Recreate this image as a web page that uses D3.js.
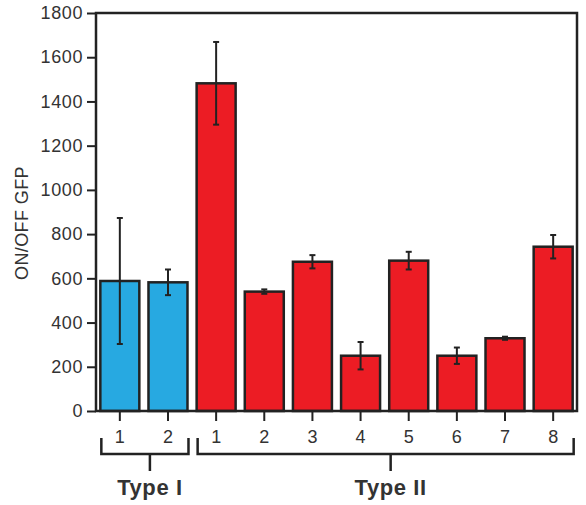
<!DOCTYPE html>
<html lang="en">
<head>
<meta charset="utf-8">
<title>ON/OFF GFP</title>
<script src="https://d3js.org/d3.v7.min.js"></script>
<style>
  body { margin: 0; background: #fff; }
  text { font-family: "Liberation Sans", Arial, sans-serif; fill: #333; }
</style>
</head>
<body>
<div id="chart"></div>
<script>
// data
var labels = ['1', '2', '1', '2', '3', '4', '5', '6', '7', '8'];
var values = [588, 582, 1482, 540, 675, 250, 680, 250, 329, 743];
var errors = [285, 58, 187, 10, 30, 62, 40, 37, 7, 53];
var types  = ['I', 'I', 'II', 'II', 'II', 'II', 'II', 'II', 'II', 'II'];
var groups = [{name: 'Type I', from: 0, to: 1}, {name: 'Type II', from: 2, to: 9}];
var yTicks = [0, 200, 400, 600, 800, 1000, 1200, 1400, 1600, 1800];

var w = 586, h = 505;
var margin = {top: 13, right: 9, bottom: 94, left: 96};
var colors = {I: '#27a9e1', II: '#ec1c24'};
var ink = '#222';

var svg = d3.select('#chart').append('svg').attr('width', w).attr('height', h);

var x = d3.scaleBand().domain(d3.range(values.length))
  .range([margin.left, w - margin.right])
  .paddingInner(0.19).paddingOuter(0.09);
var y = d3.scaleLinear().domain([0, 1800]).range([h - margin.bottom, margin.top]);

// y axis
var yAxis = svg.append('g').attr('transform', 'translate(' + margin.left + ',0)')
  .call(d3.axisLeft(y).tickValues(yTicks).tickFormat(d3.format('d')).tickSize(9).tickPadding(4));
yAxis.select('.domain').remove();
yAxis.selectAll('line').attr('stroke', ink).attr('stroke-width', 2);
yAxis.selectAll('text').attr('font-size', 18).attr('letter-spacing', 0.6).attr('fill', '#333');

// x axis
var xAxis = svg.append('g').attr('transform', 'translate(0,' + y(0) + ')')
  .call(d3.axisBottom(x).tickFormat(function (i) { return labels[i]; }).tickSize(10).tickPadding(9));
xAxis.select('.domain').remove();
xAxis.selectAll('line').attr('stroke', ink).attr('stroke-width', 2);
xAxis.selectAll('text').attr('font-size', 18).attr('fill', '#333');

// bars
svg.selectAll('.bar').data(values).enter().append('rect').attr('class', 'bar')
  .attr('x', function (d, i) { return x(i); })
  .attr('y', function (d) { return y(d); })
  .attr('width', x.bandwidth())
  .attr('height', function (d) { return y(0) - y(d); })
  .attr('fill', function (d, i) { return colors[types[i]]; })
  .attr('stroke', ink).attr('stroke-width', 2.5);

// error bars
var eb = svg.selectAll('.err').data(values).enter().append('g').attr('class', 'err')
  .attr('stroke', ink).attr('stroke-width', 2);
eb.append('line')
  .attr('x1', function (d, i) { return x(i) + x.bandwidth() / 2; })
  .attr('x2', function (d, i) { return x(i) + x.bandwidth() / 2; })
  .attr('y1', function (d, i) { return y(d + errors[i]); })
  .attr('y2', function (d, i) { return y(d - errors[i]); });
[1, -1].forEach(function (s) {
  eb.append('line')
    .attr('x1', function (d, i) { return x(i) + x.bandwidth() / 2 - 3; })
    .attr('x2', function (d, i) { return x(i) + x.bandwidth() / 2 + 3; })
    .attr('y1', function (d, i) { return y(d + s * errors[i]); })
    .attr('y2', function (d, i) { return y(d + s * errors[i]); });
});

// frame
svg.append('rect')
  .attr('x', margin.left).attr('y', margin.top)
  .attr('width', w - margin.right - margin.left)
  .attr('height', y(0) - margin.top)
  .attr('fill', 'none').attr('stroke', ink).attr('stroke-width', 2.5);

// y title
svg.append('text')
  .attr('transform', 'translate(28,' + ((margin.top + y(0)) / 2 + 11) + ') rotate(-90)')
  .attr('text-anchor', 'middle').attr('font-size', 18).attr('letter-spacing', 0.4)
  .text('ON/OFF GFP');

// group brackets
var by = y(0) + 43;
groups.forEach(function (g) {
  var x0 = x(g.from) + 1, x1 = x(g.to) + x.bandwidth() + 1;
  var cx = (x0 + x1) / 2 + 5;
  svg.append('path')
    .attr('d', 'M' + x0 + ',' + (by - 16) + 'V' + by + 'H' + x1 + 'V' + (by - 16))
    .attr('fill', 'none').attr('stroke', ink).attr('stroke-width', 2.5);
  svg.append('line').attr('x1', cx).attr('x2', cx).attr('y1', by).attr('y2', by + 17)
    .attr('stroke', ink).attr('stroke-width', 2.5);
  svg.append('text').attr('x', cx).attr('y', by + 41)
    .attr('text-anchor', 'middle').attr('font-size', 22).attr('font-weight', 'bold')
    .attr('letter-spacing', 0.6).attr('fill', '#222')
    .text(g.name);
});
</script>
</body>
</html>
